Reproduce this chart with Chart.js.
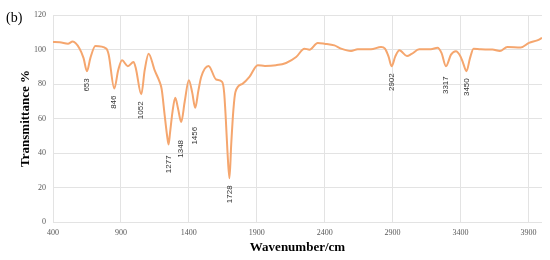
<!DOCTYPE html>
<html>
<head>
<meta charset="utf-8">
<script src="https://cdn.jsdelivr.net/npm/chart.js@4/dist/chart.umd.min.js"></script>
<style>
  html, body { margin: 0; padding: 0; background: #fff; }
  #wrap { width: 550px; height: 260px; position: relative; }
</style>
</head>
<body>
<div id="wrap"><canvas id="myChart"></canvas></div>
<script>
// FTIR spectrum: wavenumber (cm-1) and transmittance (%)
const wavenumbers = [
    400, 450, 510, 545, 596, 625, 650, 675, 712, 792, 810, 851, 880, 908, 951, 993,
    1010, 1050, 1075, 1104, 1148, 1185, 1200, 1222, 1240, 1251, 1262, 1280, 1300, 1320,
    1344, 1370, 1400, 1425, 1447, 1470, 1491, 1545, 1601, 1645, 1660, 1672, 1685, 1699,
    1712, 1728, 1743, 1797, 1846, 1907, 1960, 2042, 2116, 2190, 2251, 2288, 2349, 2398,
    2472, 2521, 2594, 2643, 2741, 2815, 2844, 2870, 2893, 2920, 2950, 3006, 3040, 3096,
    3182, 3231, 3260, 3293, 3330, 3366, 3400, 3420, 3444, 3470, 3496, 3550, 3635, 3690,
    3745, 3843, 3904, 3965, 4000
];
const transmittance = [
    104.3, 104.2, 103.3, 104.6, 100.5, 95, 87.4, 95, 102, 100.5, 97, 77.4, 88, 93.7, 90.3, 92.8,
    89, 74, 88, 97.6, 88, 81.2, 77, 62, 50, 45, 52, 64, 72, 66,
    58, 70, 82.2, 75, 66.2, 76, 84.1, 90.5, 82.6, 81.2, 75, 60, 40, 25.3,
    45, 65, 75.4, 80.2, 84.1, 90.9, 90.5, 90.9, 92.2, 95.6, 100.5, 99.9, 103.8, 103.4,
    102.4, 100.5, 99.1, 100.1, 100.1, 101.5, 100.5, 96, 90.3, 96, 99.5, 96.2, 97.4, 100.1,
    100.1, 101, 98, 90.3, 97, 99, 96, 92, 87.4, 95, 100.5, 100.1, 100, 99.1,
    101.5, 101.1, 103.8, 105.3, 106.7
];

// labelled absorption bands (label text, and where the minimum sits)
const peakLabels = ['653', '846', '1052', '1277', '1348', '1456', '1728', '2902', '3317', '3450'];
const peakX = [650, 851, 1050, 1251, 1344, 1447, 1699, 2893, 3293, 3444];
const peakY = [87.4, 77.4, 74, 45, 58, 66.2, 25.3, 90.3, 90.3, 87.4];

const xTickValues = [400, 900, 1400, 1900, 2400, 2900, 3400, 3900];

const LINE_COLOR = '#f5a66e';
const GRID_COLOR = '#e3e3e3';
const TICK_FONT = { family: '"Liberation Serif", serif', size: 8 };
const TITLE_FONT = { family: '"Liberation Serif", serif', size: 13, weight: 'bold' };

const peakLabelPlugin = {
    id: 'peakLabels',
    afterDatasetsDraw(chart) {
        const { ctx, scales: { x, y } } = chart;
        const extraDrop = { '1277': 4, '1348': 11, '1456': 12, '3317': 3 };
        ctx.save();
        ctx.font = '8px "Liberation Sans", sans-serif';
        ctx.fillStyle = '#333';
        ctx.textAlign = 'right';
        ctx.textBaseline = 'middle';
        peakLabels.forEach((txt, i) => {
            const px = x.getPixelForValue(peakX[i]);
            const py = y.getPixelForValue(peakY[i]) + 7 + (extraDrop[txt] || 0);
            ctx.save();
            ctx.translate(px, py);
            ctx.rotate(-Math.PI / 2);
            ctx.fillText(txt, 0, 0);
            ctx.restore();
        });
        // panel letter
        ctx.font = '14px "Liberation Serif", serif';
        ctx.fillStyle = '#000';
        ctx.textAlign = 'left';
        ctx.textBaseline = 'alphabetic';
        ctx.fillText('(b)', 6, 22);
        ctx.restore();
    }
};

const config = {
    type: 'line',
    data: {
        labels: wavenumbers,
        datasets: [{
            label: 'Transmittance',
            data: wavenumbers.map((w, i) => ({ x: w, y: transmittance[i] })),
            borderColor: LINE_COLOR,
            borderWidth: 2,
            pointRadius: 0,
            fill: false,
            cubicInterpolationMode: 'monotone',
        }]
    },
    options: {
        responsive: true,
        maintainAspectRatio: false,
        animation: false,
        layout: { padding: { top: 15, right: 8, left: 0, bottom: 0 } },
        scales: {
            x: {
                type: 'linear',
                min: 400,
                max: 4000,
                afterBuildTicks: (scale) => {
                    scale.ticks = xTickValues.map(v => ({ value: v }));
                },
                afterFit: (scale) => { scale.height = 38; },
                ticks: {
                    color: '#595959',
                    font: TICK_FONT,
                    padding: 6,
                    maxRotation: 0,
                    callback: (v) => String(v),
                },
                grid: { color: GRID_COLOR, drawTicks: false },
                border: { display: false },
                title: {
                    display: true,
                    text: 'Wavenumber/cm',
                    color: '#000',
                    font: TITLE_FONT,
                    padding: { top: 0, bottom: 5 },
                },
            },
            y: {
                min: 0,
                max: 120,
                afterFit: (scale) => { scale.width = 53; },
                ticks: {
                    stepSize: 20,
                    color: '#595959',
                    font: TICK_FONT,
                    padding: 7,
                },
                grid: { color: GRID_COLOR, drawTicks: false },
                border: { display: false },
                title: {
                    display: true,
                    text: 'Transmittance %',
                    color: '#000',
                    font: TITLE_FONT,
                    padding: { top: 18, bottom: 0 },
                },
            }
        },
        plugins: {
            legend: { display: false },
            tooltip: { enabled: false }
        }
    },
    plugins: [peakLabelPlugin]
};

const ctx = document.getElementById('myChart').getContext('2d');
new Chart(ctx, config);
</script>
</body>
</html>
